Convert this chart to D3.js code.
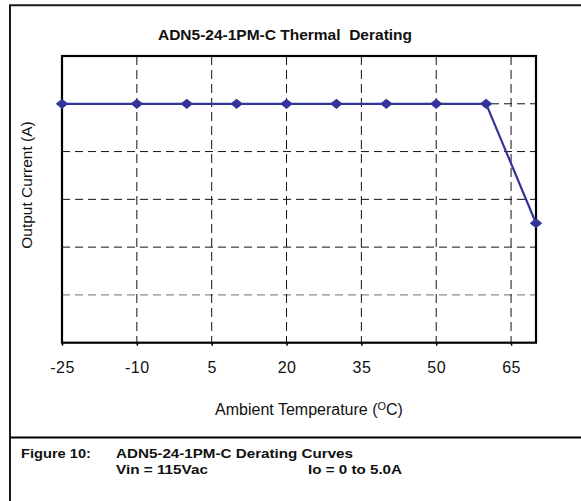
<!DOCTYPE html>
<html>
<head>
<meta charset="utf-8">
<script src="https://cdn.jsdelivr.net/npm/d3@7"></script>
<style>
  html, body { margin: 0; padding: 0; background: #fff; }
  svg { display: block; }
</style>
</head>
<body>
<svg id="chart" width="581" height="501"></svg>
<script>
// ---- data ----
const temperatures = [-25, -10, 0, 10, 20, 30, 40, 50, 60, 70];
const outputCurrent = [5, 5, 5, 5, 5, 5, 5, 5, 5, 2.5];
const xTickValues = [-25, -10, 5, 20, 35, 50, 65];
const yGridValues = [1, 2, 3, 4, 5];
const chartTitle = "ADN5-24-1PM-C Thermal  Derating";
const xTitle = "Ambient Temperature (";
const yTitle = "Output Current (A)";
const captionLabel = "Figure 10:";
const captionLine1 = "ADN5-24-1PM-C Derating Curves";
const captionLine2a = "Vin = 115Vac";
const captionLine2b = "Io = 0 to 5.0A";

// ---- layout ----
const svg = d3.select("#chart");
const plot = { left: 62, right: 536, top: 56, bottom: 342.7 };
const x = d3.scaleLinear().domain([-25, 70]).range([plot.left, plot.right]);
const y = d3.scaleLinear().domain([0, 6]).range([plot.bottom, plot.top]);
const lineColor = "#333399";
const font = "Arial, 'Liberation Sans', Helvetica, sans-serif";

// outer frame
svg.append("path")
  .attr("d", "M10,501 L10,5.3 L581,5.3")
  .attr("fill", "none").attr("stroke", "#1a1a1a").attr("stroke-width", 2);
svg.append("line")
  .attr("x1", 10).attr("x2", 581).attr("y1", 437.5).attr("y2", 437.5)
  .attr("stroke", "#000").attr("stroke-width", 2.2);

// title
svg.append("text")
  .attr("x", 285).attr("y", 40)
  .attr("text-anchor", "middle")
  .attr("font-family", font).attr("font-weight", "bold").attr("font-size", 15.5)
  .attr("fill", "#111")
  .style("white-space", "pre")
  .text(chartTitle);

// horizontal dashed grid
svg.append("g").selectAll("line").data(yGridValues).join("line")
  .attr("x1", plot.left).attr("x2", plot.right)
  .attr("y1", d => y(d)).attr("y2", d => y(d))
  .attr("stroke", d => d === 1 ? "#707070" : "#111")
  .attr("stroke-width", 1)
  .attr("stroke-dasharray", "8,5");

// vertical dashed grid
svg.append("g").selectAll("line").data(xTickValues.filter(d => d !== -25)).join("line")
  .attr("x1", d => x(d)).attr("x2", d => x(d))
  .attr("y1", plot.top).attr("y2", plot.bottom)
  .attr("stroke", "#111").attr("stroke-width", 1)
  .attr("stroke-dasharray", "9,5");

// x axis (ticks below + labels)
const xAxis = d3.axisBottom(x).tickValues(xTickValues).tickSize(3).tickPadding(16)
  .tickFormat(d => String(d));
const gx = svg.append("g").attr("transform", `translate(0,${plot.bottom})`).call(xAxis);
gx.select(".domain").remove();
gx.selectAll(".tick line").attr("stroke", "#000").attr("stroke-width", 1.5);
gx.selectAll(".tick text")
  .attr("font-family", font).attr("font-size", 16).attr("fill", "#111")
  .style("letter-spacing", "0.5px");

// plot frame
svg.append("rect")
  .attr("x", plot.left).attr("y", plot.top)
  .attr("width", plot.right - plot.left).attr("height", plot.bottom - plot.top)
  .attr("fill", "none").attr("stroke", "#000").attr("stroke-width", 2.2);

// data line
const line = d3.line().x(d => x(d[0])).y(d => y(d[1]));
const pts = temperatures.map((t, i) => [t, outputCurrent[i]]);
svg.append("path")
  .datum(pts)
  .attr("d", line)
  .attr("fill", "none").attr("stroke", lineColor).attr("stroke-width", 2.2);

// diamond markers
const wideDiamond = {
  draw(ctx, size) {
    const hw = Math.sqrt(size) * 0.55, hh = Math.sqrt(size) * 0.45;
    ctx.moveTo(0, -hh); ctx.lineTo(hw, 0); ctx.lineTo(0, hh); ctx.lineTo(-hw, 0); ctx.closePath();
  }
};
svg.append("g").selectAll("path").data(pts).join("path")
  .attr("transform", d => `translate(${x(d[0])},${y(d[1])})`)
  .attr("d", d3.symbol().type(wideDiamond).size(130))
  .attr("fill", lineColor);

// x axis title with superscript
const xt = svg.append("text")
  .attr("x", 309).attr("y", 415)
  .attr("text-anchor", "middle")
  .attr("font-family", font).attr("font-size", 16).attr("fill", "#111");
xt.append("tspan").text(xTitle);
xt.append("tspan").attr("font-size", 11).attr("dy", -5).text("O");
xt.append("tspan").attr("dy", 5).text("C)");

// y axis title
svg.append("text")
  .attr("transform", "translate(32,185) rotate(-90)")
  .attr("text-anchor", "middle")
  .attr("font-family", font).attr("font-size", 15.5).attr("fill", "#111")
  .text(yTitle);

// caption
const cap = svg.append("g")
  .attr("font-family", font).attr("font-weight", "bold").attr("font-size", 13.5)
  .attr("fill", "#111");
cap.append("text").attr("x", 21).attr("y", 457.5).attr("textLength", 70).attr("lengthAdjust", "spacingAndGlyphs").text(captionLabel);
cap.append("text").attr("x", 116).attr("y", 457.5).attr("textLength", 237).attr("lengthAdjust", "spacingAndGlyphs").text(captionLine1);
cap.append("text").attr("x", 116).attr("y", 474).attr("textLength", 92).attr("lengthAdjust", "spacingAndGlyphs").text(captionLine2a);
cap.append("text").attr("x", 308).attr("y", 474).attr("textLength", 94).attr("lengthAdjust", "spacingAndGlyphs").text(captionLine2b);
</script>
</body>
</html>
